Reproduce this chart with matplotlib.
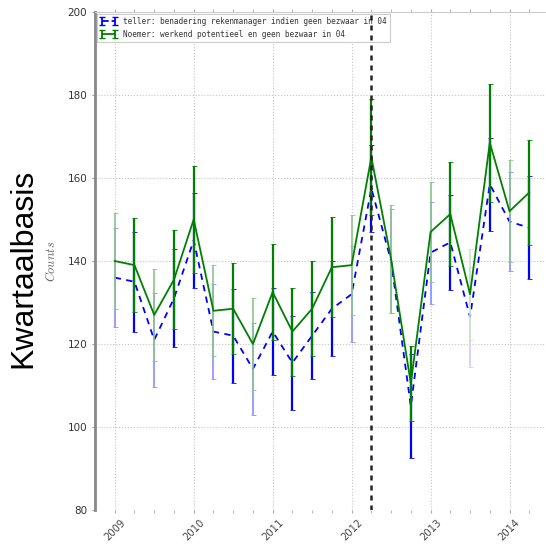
import numpy as np
import pandas as pd
import matplotlib
matplotlib.use('Agg')
import matplotlib.pyplot as plt
from matplotlib.colors import to_rgb

# kwartalen 2009Q1 .. 2014Q2
kwartalen = ['2009Q1', '2009Q2', '2009Q3', '2009Q4', '2010Q1', '2010Q2', '2010Q3', '2010Q4',
             '2011Q1', '2011Q2', '2011Q3', '2011Q4', '2012Q1', '2012Q2', '2012Q3', '2012Q4',
             '2013Q1', '2013Q2', '2013Q3', '2013Q4', '2014Q1', '2014Q2']

teller = [136, 135, 121, 131, 145, 123, 122, 114, 123, 115.5, 122, 128.5,
          132, 157.5, 140, 105, 142, 144.5, 126.5, 158.5, 149.5, 148]
teller_err = [12, 12, 11.4, 11.8, 11.4, 11.5, 11.3, 11, 10.5, 11.3, 10.5, 11.4,
              11.6, 10.5, 12.5, 12.5, 12.3, 11.4, 12, 11.2, 12, 12.4]

noemer = [140, 139, 127, 135.5, 150, 128, 128.5, 120, 132.5, 123, 128.5, 138.5,
          139, 165, 140.5, 110.5, 147, 151.3, 132, 168.5, 152, 156.5]
noemer_err = [11.6, 11.4, 11, 12, 13, 11, 11, 11, 11.5, 10.6, 11.5, 12,
              12, 14, 13, 9, 12, 12.6, 11, 14.2, 12.3, 12.7]

# sterkte van de foutbalken per kwartaal
bar_alpha = [0.45, 1, 0.45, 1, 1, 0.45, 1, 0.45, 1, 1, 1, 1,
             0.45, 1, 0.45, 1, 0.45, 1, 0.2, 1, 0.45, 1]

jaren = ['2009', '2010', '2011', '2012', '2013', '2014']
markering = '2012Q2'

label_teller = 'teller: benadering rekenmanager indien geen bezwaar in 04'
label_noemer = 'Noemer: werkend potentieel en geen bezwaar in 04'

per = pd.PeriodIndex(kwartalen, freq='Q')
x = per.year + (per.quarter - 1) / 4.0
mark = pd.Period(markering, freq='Q')
x_mark = mark.year + (mark.quarter - 1) / 4.0

blue = '#0000ff'
green = '#008000'
plt.rcParams['mathtext.fontset'] = 'cm'


def fade(c, a):
    # mix colour with white (opaque), so bars below don't shine through
    r = np.array(to_rgb(c))
    return tuple(1 - a * (1 - r))


fig = plt.figure(figsize=(5.46, 5.45), dpi=100)
ax = fig.add_axes([95 / 546, 1 - 510 / 545, 454 / 546, 498 / 545])

# teller
ax.plot(x, teller, '--', color=blue, lw=1.3, dashes=(3.5, 3), zorder=3)
for xi, yi, ei, a in zip(x, teller, teller_err, bar_alpha):
    ax.errorbar(xi, yi, yerr=ei, fmt='none', ecolor=fade(blue, a), zorder=2,
                elinewidth=1.6 if a == 1 else 1.2, capsize=1.8, capthick=0.6)

# noemer
ax.plot(x, noemer, '-', color=green, lw=1.3, zorder=5)
for xi, yi, ei, a in zip(x, noemer, noemer_err, bar_alpha):
    ax.errorbar(xi, yi, yerr=ei, fmt='none', ecolor=fade(green, a), zorder=4,
                elinewidth=1.6 if a == 1 else 1.2, capsize=1.8, capthick=0.6)

ax.axvline(x_mark, color='#222222', ls='--', lw=1.8, dashes=(2, 2), zorder=7)

# legend handles (errorbar style, old 2-point look)
h1 = ax.errorbar([np.nan], [np.nan], yerr=[1], fmt='--', color=blue, lw=1.3, capsize=2)
h2 = ax.errorbar([np.nan], [np.nan], yerr=[1], fmt='-', color=green, lw=1.3, capsize=2)
leg = ax.legend([h1, h2], [label_teller, label_noemer], loc='upper left', numpoints=2,
                prop={'family': 'DejaVu Sans Mono', 'size': 5.6}, handlelength=2.2,
                borderaxespad=0.25, fancybox=False, framealpha=1)
leg.set_zorder(6)
leg.get_frame().set_edgecolor('#cccccc')
leg.get_frame().set_linewidth(0.8)
for t in leg.get_texts():
    t.set_color('#333333')

ax.set_xlim(2008.75, 2014.5)
ax.set_ylim(80, 200)
ax.set_xticks([int(j) for j in jaren])
ax.set_xticklabels(jaren, rotation=45, fontsize=7.2, color='#444444')
ax.set_xticks(x, minor=True)
ax.set_yticks(np.arange(80, 201, 20))
ax.tick_params(axis='y', labelsize=7.5, labelcolor='#333333', length=2, color='#999999')
ax.tick_params(axis='x', which='both', length=2, color='#aaaaaa', top=True)

ax.grid(True, which='major', ls=':', color='#c4c4c4', lw=0.8)
ax.set_axisbelow(True)

ax.set_ylabel('$Counts$', fontsize=9, color='#666666')
ax.yaxis.set_label_coords(-0.082, 0.5)

for s in ['bottom', 'right']:
    ax.spines[s].set_visible(False)
ax.spines['left'].set_color('#888888')
ax.spines['left'].set_linewidth(2)
ax.spines['top'].set_color('#cccccc')
ax.spines['top'].set_linewidth(0.8)

fig.text(23 / 546, 1 - 268 / 545, 'Kwartaalbasis', rotation=90, fontsize=23,
         family='Liberation Sans', ha='center', va='center')

fig.savefig('out.png', dpi=100)
